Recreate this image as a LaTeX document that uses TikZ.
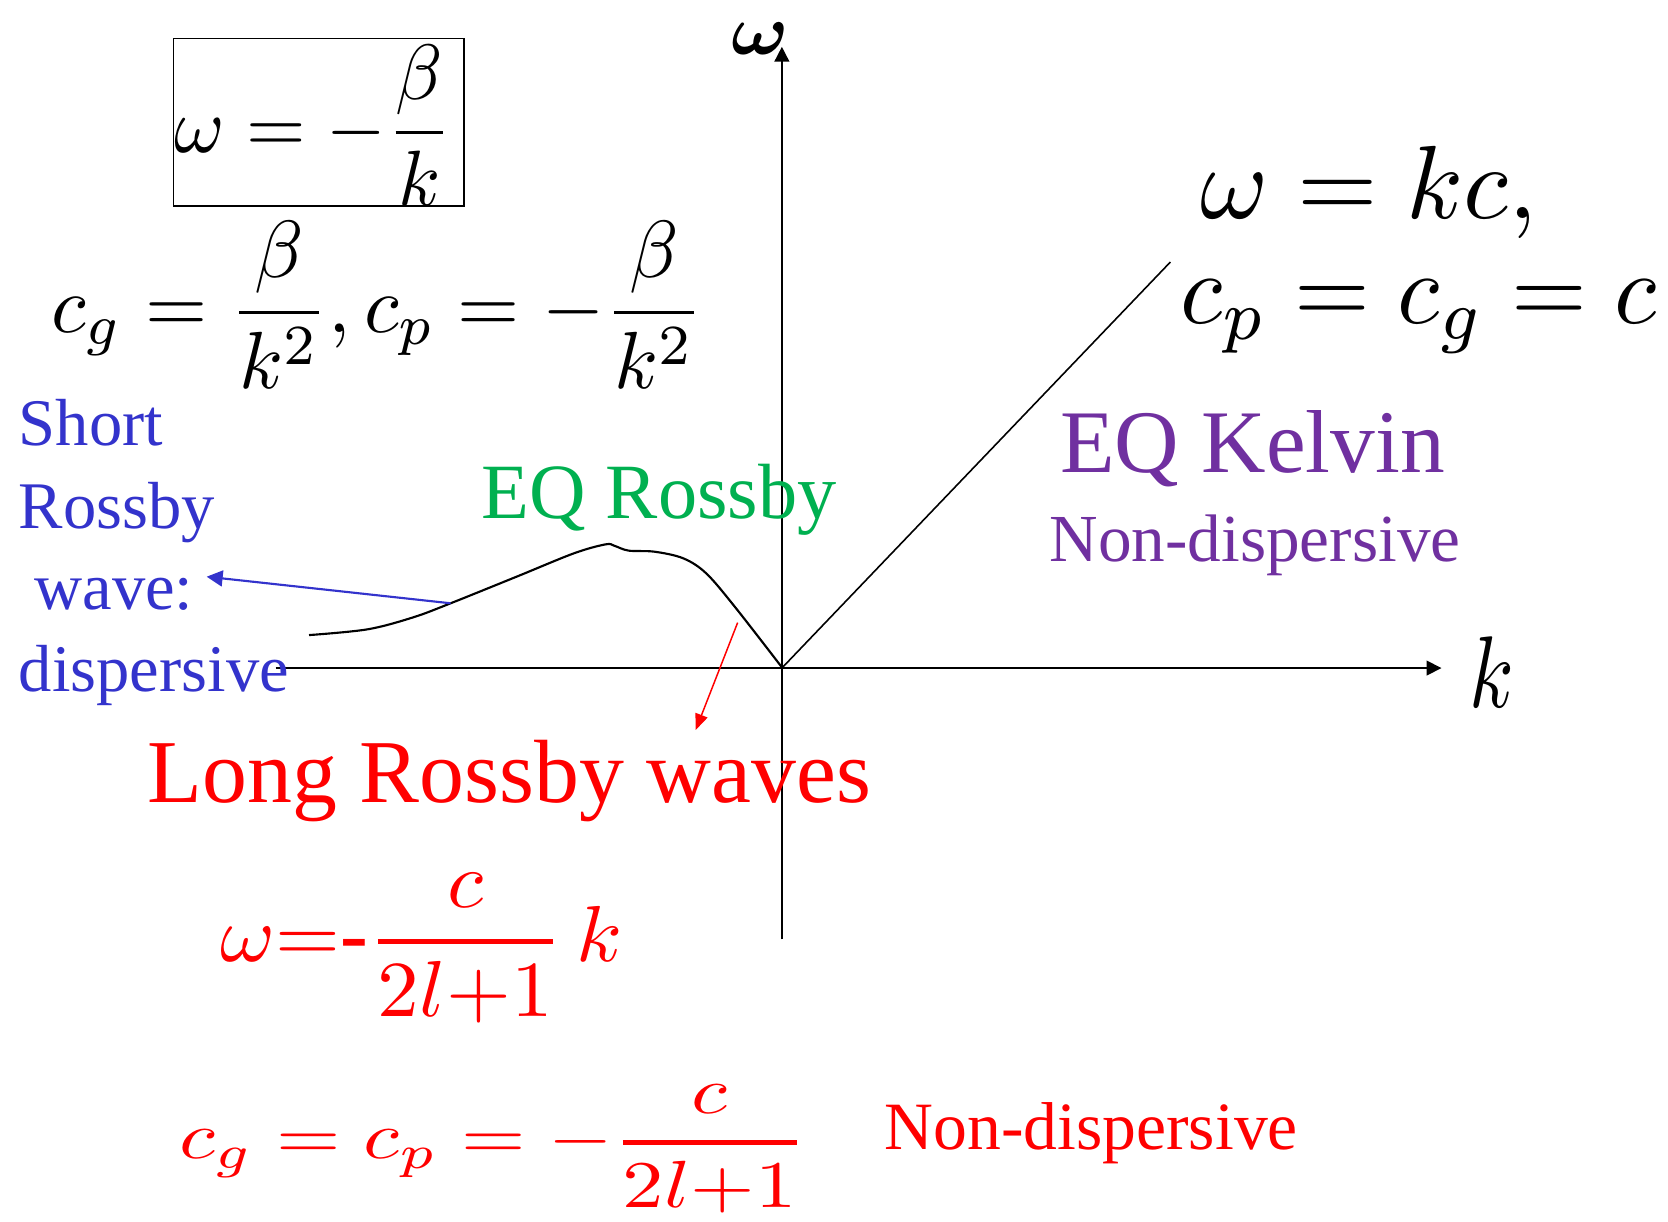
\documentclass[tikz,border=0pt]{standalone}
\usepackage{fontspec}
\setmainfont{Liberation Serif}
\usepackage{amsmath,bm}
\usepackage{graphicx}
\usetikzlibrary{arrows.meta}
\definecolor{sblue}{RGB}{51,51,204}
\definecolor{sgreen}{RGB}{0,176,80}
\definecolor{spurple}{RGB}{112,48,160}
\definecolor{sred}{RGB}{255,0,0}
\newcommand{\fs}[1]{\fontsize{#1}{1.2\dimexpr#1\relax}\selectfont}
\begin{document}
\begin{tikzpicture}[x=0.5pt,y=-0.5pt,
  axisline/.style={line width=0.75pt,-{Triangle[length=7pt,width=7pt]}},
  curveline/.style={line width=1pt},
  kline/.style={line width=0.75pt},
  plain/.style={inner sep=0pt,outer sep=0pt},
  lbl/.style={inner sep=0pt,outer sep=0pt,anchor=base west},
  bluearrow/.style={sblue,line width=1pt,-{Triangle[length=7.5pt,width=7.5pt]}},
  redarrow/.style={sred,line width=0.7pt,-{Triangle[length=7.5pt,width=6pt]}}]
\useasboundingbox (0,0) rectangle (1568,1148);
% axes
\coordinate (O) at (735,628);
\coordinate (xstart) at (259,628);
\coordinate (xend) at (1355,628);
\coordinate (ybot) at (735,883);
\coordinate (ytop) at (735,44);
\draw[axisline] (xstart) -- (xend);
\draw[axisline] (ybot) -- (ytop);
\node[plain] (wlabel) at (715,36) {\resizebox*{27pt}{14.85pt}{$\bm{\omega}$}};
\node[plain] (klabel) at (1402,632) {\resizebox*{21pt}{33.25pt}{$k$}};
% Kelvin line
\coordinate (kend) at (1100.2,246.3);
\draw[kline] (O) -- (kend);
% Rossby curve
\coordinate (cp) at (423.6,567.1);
\draw[curveline] plot[smooth,tension=0.55] coordinates {(290.5,597) (345.4,591.6) (388.5,580.3) (423.6,567.1) (485.6,542.1) (539.6,520.1) (569.3,511.7) (577.4,513) (590.9,517.6) (615.2,518.6) (642.2,524.8) (663.8,538.9) (690.7,570.3) (735,627.3)};
% boxed formula
\node[draw,line width=0.75pt,minimum width=136.5pt,minimum height=78.8pt,inner sep=0pt] (box) at (299.5,114.8) {};
\node[plain] (boxeq) at (294.5,117.8) {\resizebox*{130.5pt}{75.8pt}{$\displaystyle \omega=-\frac{\beta}{k}$}};
\node[plain] (cgeq) at (354.8,286.7) {\resizebox*{306.6pt}{78.3pt}{$\displaystyle c_g=\frac{\beta}{k^2},c_p=-\frac{\beta}{k^2}$}};
\node[plain] (kceq) at (1287,180.65) {\resizebox*{158.25pt}{43.45pt}{$\omega=kc,$}};
\node[plain] (cpeq) at (1333.5,297.6) {\resizebox*{224pt}{34pt}{$c_p=c_g=c$}};
% labels
\node[lbl,sblue,font=\fs{31.3pt}] (short1) at (17.8,419) {Short};
\node[lbl,sblue,font=\fs{31.3pt}] (short2) at (17.8,496.6) {Rossby};
\node[lbl,sblue,font=\fs{31.3pt}] (short3) at (32.4,572.8) {wave:};
\node[lbl,sblue,font=\fs{31.3pt}] (short4) at (17.8,650.2) {dispersive};
\node[lbl,sgreen,font=\fs{36.8pt}] (eqr) at (453,487.3) {EQ Rossby};
\node[lbl,spurple,font=\fs{42pt}] (eqk) at (996.5,443.7) {EQ Kelvin};
\node[lbl,spurple,font=\fs{31.6pt}] (nd1) at (986.8,528.1) {Non-dispersive};
\node[lbl,sred,font=\fs{42.2pt}] (lrw) at (139,754.5) {Long Rossby waves};
\node[lbl,sred,font=\fs{31.8pt}] (nd2) at (831.5,1080.4) {Non-dispersive};
% red formulas
\node[plain,sred] (red1) at (396.3,891.2) {\resizebox*{189.1pt}{70.15pt}{$\displaystyle \omega{=}\mbox{\bfseries -}\genfrac{}{}{0.7pt}{0}{c}{2l{+}1}\,k$}};
\node[plain,sred] (red2) at (463.2,1080) {\resizebox*{294.85pt}{60pt}{$\displaystyle c_g=c_p=-\genfrac{}{}{0.8pt}{0}{c}{2l{+}1}$}};
% arrows
\coordinate (btip) at (194.3,542.1);
\draw[bluearrow] (cp) -- (btip);
\coordinate (rstart) at (693.4,585.3);
\coordinate (rtip) at (654,686.2);
\draw[redarrow] (rstart) -- (rtip);
\end{tikzpicture}
\end{document}
